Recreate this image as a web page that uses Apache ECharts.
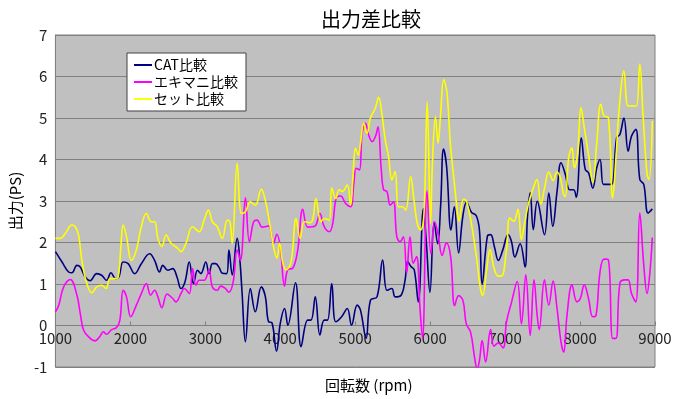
<!DOCTYPE html>
<html lang="ja">

<head>
    <meta charset="UTF-8" />
    <title>出力差比較</title>
    <script src="https://cdn.jsdelivr.net/npm/echarts@6/dist/echarts.min.js"></script>
</head>

<body style="margin:0;background:#fff;">
    <div id="chart" style="width:680px;height:399px;"></div>
    <script type="text/javascript">
        // [rpm, PS] 読み取り値
        var catData = [
            [1000, 1.78], [1088, 1.53], [1176, 1.29], [1220, 1.27], [1287, 1.45], [1331, 1.41], [1397, 1.17], [1463, 1.08],
            [1551, 1.25], [1617, 1.21], [1683, 1.09], [1741, 1.27], [1802, 1.13], [1847, 1.17], [1904, 1.53], [1970, 1.49],
            [2058, 1.25], [2146, 1.49], [2257, 1.73], [2323, 1.57], [2389, 1.29], [2433, 1.45], [2499, 1.33], [2565, 1.37],
            [2622, 1.17], [2675, 0.89], [2728, 1.05], [2786, 1.53], [2843, 1.01], [2896, 1.33], [2940, 1.25], [3006, 1.53],
            [3050, 1.25], [3094, 1.49], [3138, 1.49], [3183, 1.40], [3227, 1.26], [3284, 1.25], [3315, 1.82], [3359, 1.22],
            [3425, 2.10], [3460, 1.60], [3490, 0.80], [3535, -0.39], [3601, 0.89], [3667, 0.33], [3747, 0.93], [3800, 0.70],
            [3844, 0.09], [3888, 0.07], [3950, -0.62], [4000, 0.05], [4057, 0.41], [4101, 0.01], [4203, 1.03], [4278, -0.51],
            [4366, 0.13], [4410, 0.13], [4467, 0.69], [4529, -0.23], [4586, 0.13], [4630, 0.13], [4687, 1.01], [4740, 0.09],
            [4819, 0.21], [4894, 0.41], [4951, 0.01], [5026, 0.49], [5070, 0.37], [5145, -0.31], [5203, 0.61], [5291, 0.69],
            [5366, 1.58], [5423, 0.85], [5489, 0.89], [5533, 0.69], [5612, 0.73], [5665, 1.09], [5700, 1.54], [5744, 1.42],
            [5788, 1.34], [5841, 0.57], [5910, 2.82], [5947, 2.06], [5997, 0.80], [6054, 2.49], [6100, 1.97], [6140, 2.90],
            [6178, 4.25], [6220, 3.82], [6278, 2.30], [6322, 2.86], [6380, 1.75], [6435, 2.62], [6486, 2.97], [6550, 2.73],
            [6614, 2.65], [6658, 2.29], [6694, 1.00], [6763, 2.15], [6807, 2.19], [6858, 1.89], [6910, 1.57], [6967, 1.81],
            [7040, 2.19], [7084, 2.03], [7130, 1.65], [7200, 1.97], [7266, 1.41], [7298, 2.61], [7335, 3.20], [7376, 2.31],
            [7429, 2.99], [7526, 2.19], [7583, 3.19], [7636, 2.39], [7693, 3.23], [7746, 3.92], [7804, 3.64], [7861, 3.27],
            [7914, 3.27], [7949, 3.09], [8016, 4.52], [8069, 3.76], [8113, 3.68], [8170, 3.31], [8223, 3.80], [8267, 4.00],
            [8311, 3.40], [8364, 3.40], [8421, 3.40], [8488, 4.52], [8532, 4.60], [8585, 5.00], [8642, 4.20], [8686, 4.56],
            [8744, 4.73], [8797, 3.52], [8850, 3.40], [8907, 2.71], [8964, 2.81]
        ];
        var exData = [
            [1000, 0.33], [1044, 0.49], [1110, 0.93], [1198, 1.11], [1287, 0.73], [1331, 0.29], [1375, -0.11], [1441, -0.27],
            [1529, -0.37], [1595, -0.26], [1639, -0.15], [1683, -0.21], [1750, -0.10], [1816, -0.05], [1860, 0.13], [1904, 0.85],
            [1948, 0.69], [2005, 0.21], [2080, 0.49], [2146, 0.77], [2213, 1.01], [2270, 0.73], [2323, 0.85], [2367, 0.69],
            [2420, 0.43], [2490, 0.76], [2565, 0.65], [2609, 0.57], [2675, 0.77], [2720, 0.89], [2786, 0.77], [2830, 1.37],
            [2874, 0.97], [2918, 1.09], [2984, 1.09], [3050, 1.33], [3094, 0.93], [3160, 0.85], [3205, 0.95], [3262, 0.90],
            [3315, 0.80], [3372, 1.05], [3425, 1.82], [3469, 1.57], [3535, 3.08], [3588, 2.02], [3645, 2.50], [3690, 2.54],
            [3760, 2.37], [3844, 2.40], [3910, 1.98], [3954, 2.20], [4000, 1.90], [4057, 0.95], [4101, 1.35], [4167, 1.38],
            [4233, 1.82], [4300, 2.80], [4366, 2.37], [4432, 2.38], [4476, 2.42], [4529, 2.70], [4586, 2.38], [4652, 2.26],
            [4696, 2.42], [4753, 3.10], [4806, 3.12], [4872, 2.94], [4938, 2.86], [4982, 3.43], [5013, 3.79], [5057, 3.75],
            [5092, 4.63], [5136, 4.87], [5180, 4.59], [5225, 4.43], [5277, 4.59], [5304, 4.79], [5348, 3.75], [5379, 3.27],
            [5423, 3.23], [5467, 2.90], [5511, 2.98], [5555, 2.14], [5599, 2.02], [5643, 2.14], [5687, 1.26], [5731, 2.14],
            [5775, 1.50], [5819, 1.66], [5863, 0.45], [5898, -0.31], [5958, 3.24], [6010, 1.73], [6060, 2.50], [6105, 2.20],
            [6160, 1.69], [6217, 1.99], [6274, 1.65], [6327, 0.48], [6380, 0.72], [6438, 0.60], [6482, 0.04], [6539, -0.16],
            [6592, -0.76], [6627, -1.05], [6658, -0.84], [6694, -0.36], [6740, -0.88], [6807, -0.10], [6851, -0.50], [6908, -0.42],
            [6974, -0.54], [7018, 0.08], [7084, 0.55], [7162, 1.06], [7218, 0.04], [7276, 1.22], [7335, -0.24], [7385, 1.10],
            [7430, 0.20], [7455, -0.10], [7525, 1.10], [7583, 0.49], [7640, 1.07], [7693, 0.41], [7746, -0.40], [7782, -0.64],
            [7826, 0.25], [7892, 0.98], [7958, 0.57], [8003, 0.65], [8056, 0.98], [8113, 0.65], [8170, 0.21], [8214, 0.25],
            [8267, 1.30], [8320, 1.60], [8378, 1.58], [8435, -0.31], [8479, -0.31], [8532, 1.02], [8598, 1.10], [8642, 1.10],
            [8686, 0.77], [8744, 0.57], [8797, 2.71], [8850, 1.46], [8894, 0.77], [8929, 1.22], [8964, 2.12]
        ];
        var setData = [
            [1000, 2.10], [1066, 2.10], [1132, 2.22], [1220, 2.42], [1265, 2.38], [1309, 2.18], [1353, 1.57], [1419, 1.01],
            [1485, 0.79], [1551, 0.93], [1617, 0.97], [1675, 0.89], [1728, 1.13], [1794, 1.13], [1838, 1.17], [1873, 1.90],
            [1904, 2.42], [1948, 2.14], [2014, 1.57], [2080, 1.82], [2146, 2.38], [2213, 2.70], [2279, 2.50], [2323, 2.50],
            [2367, 2.10], [2420, 1.90], [2477, 2.18], [2543, 1.98], [2631, 1.86], [2675, 1.78], [2742, 1.98], [2830, 2.38],
            [2918, 2.26], [2984, 2.54], [3041, 2.78], [3094, 2.50], [3160, 2.38], [3227, 2.10], [3293, 2.54], [3328, 2.50],
            [3359, 1.98], [3425, 3.91], [3483, 2.70], [3535, 2.74], [3601, 2.98], [3667, 2.90], [3747, 3.28], [3800, 3.02],
            [3866, 2.38], [3910, 1.90], [3954, 1.62], [3991, 1.98], [4035, 1.50], [4079, 1.34], [4145, 1.54], [4211, 2.58],
            [4264, 2.10], [4322, 2.50], [4388, 2.48], [4432, 2.54], [4476, 3.06], [4542, 2.50], [4586, 2.58], [4652, 2.54],
            [4687, 3.31], [4740, 3.06], [4784, 3.27], [4828, 3.23], [4894, 3.39], [4938, 2.90], [4969, 3.55], [5004, 4.27],
            [5040, 4.11], [5070, 4.39], [5114, 4.87], [5158, 4.63], [5203, 5.00], [5269, 5.24], [5313, 5.50], [5357, 5.08],
            [5401, 4.47], [5445, 4.07], [5489, 3.51], [5533, 3.71], [5577, 2.86], [5630, 2.86], [5674, 2.78], [5740, 3.59],
            [5784, 3.02], [5828, 2.46], [5872, 2.30], [5916, 2.62], [5961, 5.39], [6005, 2.46], [6030, 3.90], [6071, 5.03],
            [6106, 4.39], [6137, 5.03], [6181, 5.92], [6225, 5.60], [6269, 4.39], [6313, 3.59], [6357, 2.86], [6385, 2.51],
            [6445, 3.04], [6485, 3.00], [6556, 2.39], [6622, 1.59], [6670, 0.90], [6701, 0.72], [6754, 1.35], [6798, 1.83],
            [6851, 1.39], [6908, 1.19], [6952, 1.19], [7018, 1.83], [7062, 2.59], [7115, 2.51], [7172, 2.80], [7216, 2.07],
            [7260, 2.47], [7304, 2.88], [7341, 3.11], [7376, 3.31], [7425, 3.52], [7478, 2.93], [7526, 3.31],
            [7583, 3.70], [7640, 3.49], [7693, 3.70], [7737, 3.56], [7782, 3.15], [7804, 3.11], [7848, 4.04], [7892, 4.28],
            [7923, 3.80], [7967, 4.12], [8012, 5.25], [8056, 4.77], [8113, 4.12], [8170, 3.44], [8223, 4.40], [8276, 5.33],
            [8320, 5.05], [8378, 5.01], [8435, 3.07], [8479, 4.04], [8523, 5.25], [8585, 6.14], [8642, 5.29], [8708, 5.29],
            [8753, 5.29], [8797, 6.30], [8841, 5.05], [8894, 3.64], [8920, 3.52], [8964, 4.93]
        ];
        var seriesNames = ['CAT比較', 'エキマニ比較', 'セット比較'];

        var font = 'Noto Sans CJK JP';
        var chart = echarts.init(document.getElementById('chart'));
        var option = {
            animation: false,
            textStyle: { fontFamily: font },
            color: ['#000080', '#FF00FF', '#FFFF00'],
            title: [{
                text: '出力差比較',
                left: 316,
                top: 4,
                textStyle: { fontFamily: font, fontSize: 20, fontWeight: 'normal', color: '#000' }
            }, {
                text: '回転数 (rpm)',
                left: 320,
                top: 373,
                textStyle: { fontFamily: font, fontSize: 15, fontWeight: 'normal', color: '#000' }
            }],
            legend: {
                data: seriesNames,
                orient: 'vertical',
                left: 127,
                top: 53,
                backgroundColor: '#fff',
                borderColor: '#404040',
                borderWidth: 1,
                borderRadius: 0,
                padding: [5, 8, 5, 7],
                itemWidth: 18,
                itemHeight: 2,
                itemGap: 3,
                icon: 'rect',
                textStyle: { fontFamily: font, fontSize: 14, color: '#000', padding: [0, 0, 0, -3] }
            },
            grid: {
                left: 50,
                right: 25,
                top: 35,
                bottom: 32,
                show: true,
                backgroundColor: '#C0C0C0',
                borderColor: '#808080',
                borderWidth: 1
            },
            xAxis: {
                type: 'value',
                min: 1000,
                max: 9000,
                interval: 1000,
                offset: -41.5, // 0 の位置に横軸を置く
                axisLine: { onZero: false, lineStyle: { color: '#808080', width: 1 } },
                axisTick: { show: true, inside: true, length: 4, lineStyle: { color: '#808080' } },
                axisLabel: {
                    fontFamily: font, fontSize: 15, color: '#222', margin: 5,
                    formatter: function (v) { return String(v); }
                },
                splitLine: { show: false }
            },
            yAxis: {
                type: 'value',
                min: -1,
                max: 7,
                interval: 1,
                name: '出力(PS)',
                nameLocation: 'middle',
                nameRotate: 90,
                nameGap: 32,
                nameTextStyle: { fontFamily: font, fontSize: 15, color: '#000' },
                axisLine: { show: true, lineStyle: { color: '#808080' } },
                axisTick: { show: false },
                axisLabel: { fontFamily: font, fontSize: 15, color: '#222', margin: 8 },
                splitLine: { show: true, lineStyle: { color: '#808080', width: 1 } }
            },
            series: [
                { name: seriesNames[0], type: 'line', data: catData },
                { name: seriesNames[1], type: 'line', data: exData },
                { name: seriesNames[2], type: 'line', data: setData }
            ]
        };

        for (var i = 0; i < option.series.length; i++) {
            option.series[i].smooth = 0.4;
            option.series[i].showSymbol = false;
            option.series[i].lineStyle = { width: 1.6 };
        }

        chart.setOption(option);
    </script>
</body>

</html>
